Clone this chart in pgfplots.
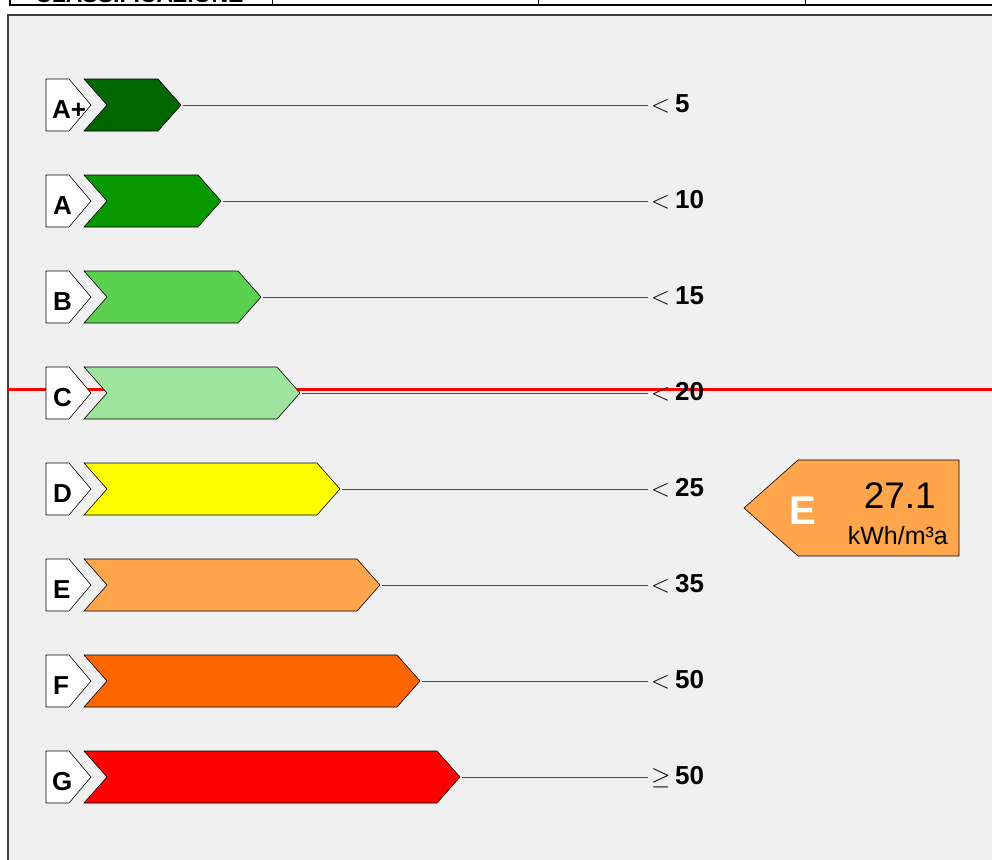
\documentclass[border=0pt]{standalone}
\usepackage{pgfplots}
\pgfplotsset{compat=1.18}
\usepackage{fontspec}
\setmainfont{Liberation Sans}
\definecolor{panel}{RGB}{240,240,240}
\definecolor{cAp}{RGB}{0,102,0}
\definecolor{cA}{RGB}{8,153,0}
\definecolor{cB}{RGB}{90,208,80}
\definecolor{cC}{RGB}{158,227,158}
\definecolor{cD}{RGB}{255,255,0}
\definecolor{cE}{RGB}{255,166,77}
\definecolor{cF}{RGB}{255,102,0}
\definecolor{cG}{RGB}{255,0,0}
\begin{document}
\begin{tikzpicture}
\useasboundingbox (0,0) rectangle (992pt,859pt);
\clip (0,0) rectangle (992pt,859pt);
\begin{axis}[
  scale only axis, width=992pt, height=859pt,
  xmin=0, xmax=992, ymin=0, ymax=859, y dir=reverse,
  hide axis, clip=false,
]
% background
\addplot[draw=none, fill=white] coordinates {(0,0) (992,0) (992,859) (0,859)} -- cycle;
\addplot[draw=black!75, line width=1.5pt, fill=panel] coordinates {(8,15) (1000,15) (1000,870) (8,870)} -- cycle;
% top table fragment
\draw[black, line width=1.2pt] (axis cs:10,-5) -- (axis cs:10,5) -- (axis cs:995,5);
\draw[black, line width=0.8pt] (axis cs:272,-5) -- (axis cs:272,5);
\draw[black, line width=0.8pt] (axis cs:538,-5) -- (axis cs:538,5);
\draw[black, line width=0.8pt] (axis cs:805,-5) -- (axis cs:805,5);
\node[anchor=base west, inner sep=0pt, font=\fontsize{23}{26}\selectfont\bfseries] at (axis cs:35,3) {CLASSIFICAZIONE};
% red marker line
\addplot[cG, line width=3pt] coordinates {(8,389) (992,389)};
% connector lines
\addplot[black!70, line width=1pt] coordinates {(183,105) (648,105)};
\addplot[black!70, line width=1pt] coordinates {(223,201) (648,201)};
\addplot[black!70, line width=1pt] coordinates {(263,297) (648,297)};
\addplot[black!70, line width=1pt] coordinates {(302,393) (648,393)};
\addplot[black!70, line width=1pt] coordinates {(342,489) (648,489)};
\addplot[black!70, line width=1pt] coordinates {(382,585) (648,585)};
\addplot[black!70, line width=1pt] coordinates {(422,681) (648,681)};
\addplot[black!70, line width=1pt] coordinates {(462,777) (648,777)};
% letter boxes
\addplot[draw=black, line width=0.6pt, fill=white] coordinates {(46,79) (69,79) (91,105) (69,131) (46,131)} -- cycle;
\addplot[draw=black, line width=0.6pt, fill=white] coordinates {(46,175) (69,175) (91,201) (69,227) (46,227)} -- cycle;
\addplot[draw=black, line width=0.6pt, fill=white] coordinates {(46,271) (69,271) (91,297) (69,323) (46,323)} -- cycle;
\addplot[draw=black, line width=0.6pt, fill=white] coordinates {(46,367) (69,367) (91,393) (69,419) (46,419)} -- cycle;
\addplot[draw=black, line width=0.6pt, fill=white] coordinates {(46,463) (69,463) (91,489) (69,515) (46,515)} -- cycle;
\addplot[draw=black, line width=0.6pt, fill=white] coordinates {(46,559) (69,559) (91,585) (69,611) (46,611)} -- cycle;
\addplot[draw=black, line width=0.6pt, fill=white] coordinates {(46,655) (69,655) (91,681) (69,707) (46,707)} -- cycle;
\addplot[draw=black, line width=0.6pt, fill=white] coordinates {(46,751) (69,751) (91,777) (69,803) (46,803)} -- cycle;
% bars
\addplot[draw=black, line width=0.6pt, fill=cAp] coordinates {(84,79) (158,79) (181,105) (158,131) (84,131) (107,105)} -- cycle;
\addplot[draw=black, line width=0.6pt, fill=cA] coordinates {(84,175) (198,175) (221,201) (198,227) (84,227) (107,201)} -- cycle;
\addplot[draw=black, line width=0.6pt, fill=cB] coordinates {(84,271) (238,271) (261,297) (238,323) (84,323) (107,297)} -- cycle;
\addplot[draw=black, line width=0.6pt, fill=cC] coordinates {(84,367) (277,367) (300,393) (277,419) (84,419) (107,393)} -- cycle;
\addplot[draw=black, line width=0.6pt, fill=cD] coordinates {(84,463) (317,463) (340,489) (317,515) (84,515) (107,489)} -- cycle;
\addplot[draw=black, line width=0.6pt, fill=cE] coordinates {(84,559) (357,559) (380,585) (357,611) (84,611) (107,585)} -- cycle;
\addplot[draw=black, line width=0.6pt, fill=cF] coordinates {(84,655) (397,655) (420,681) (397,707) (84,707) (107,681)} -- cycle;
\addplot[draw=black, line width=0.6pt, fill=cG] coordinates {(84,751) (437,751) (460,777) (437,803) (84,803) (107,777)} -- cycle;
% letters
\begin{scope}[every node/.style={anchor=base west, inner sep=0pt, font=\fontsize{26}{30}\selectfont\bfseries}]
\node at (axis cs:52,118) {A+};
\node at (axis cs:53,214) {A};
\node at (axis cs:53,310) {B};
\node at (axis cs:53,406) {C};
\node at (axis cs:53,502) {D};
\node at (axis cs:53,598) {E};
\node at (axis cs:53,694) {F};
\node at (axis cs:52,790) {G};
% thresholds
\node at (axis cs:651,112) {\mdseries$<$};
\node at (axis cs:651,208) {\mdseries$<$};
\node at (axis cs:651,304) {\mdseries$<$};
\node at (axis cs:651,400) {\mdseries$<$};
\node at (axis cs:651,496) {\mdseries$<$};
\node at (axis cs:651,592) {\mdseries$<$};
\node at (axis cs:651,688) {\mdseries$<$};
\node at (axis cs:651,784) {\mdseries$\geq$};
\node at (axis cs:675,112) {5};
\node at (axis cs:675,208) {10};
\node at (axis cs:675,304) {15};
\node at (axis cs:675,400) {20};
\node at (axis cs:675,496) {25};
\node at (axis cs:675,592) {35};
\node at (axis cs:675,688) {50};
\node at (axis cs:675,784) {50};
\end{scope}
% result box
\addplot[draw=black, line width=0.6pt, fill=cE] coordinates {(798,460) (959,460) (959,556) (798,556) (744,508)} -- cycle;
\node[anchor=base west, inner sep=0pt, text=white, font=\fontsize{40}{44}\selectfont\bfseries] at (axis cs:789,524) {E};
\node[anchor=base east, inner sep=0pt, font=\fontsize{37}{42}\selectfont] at (axis cs:936,508) {27.1};
\node[anchor=base east, inner sep=0pt, font=\fontsize{25}{29}\selectfont] at (axis cs:948,544) {kWh/m³a};
\end{axis}
\end{tikzpicture}
\end{document}
